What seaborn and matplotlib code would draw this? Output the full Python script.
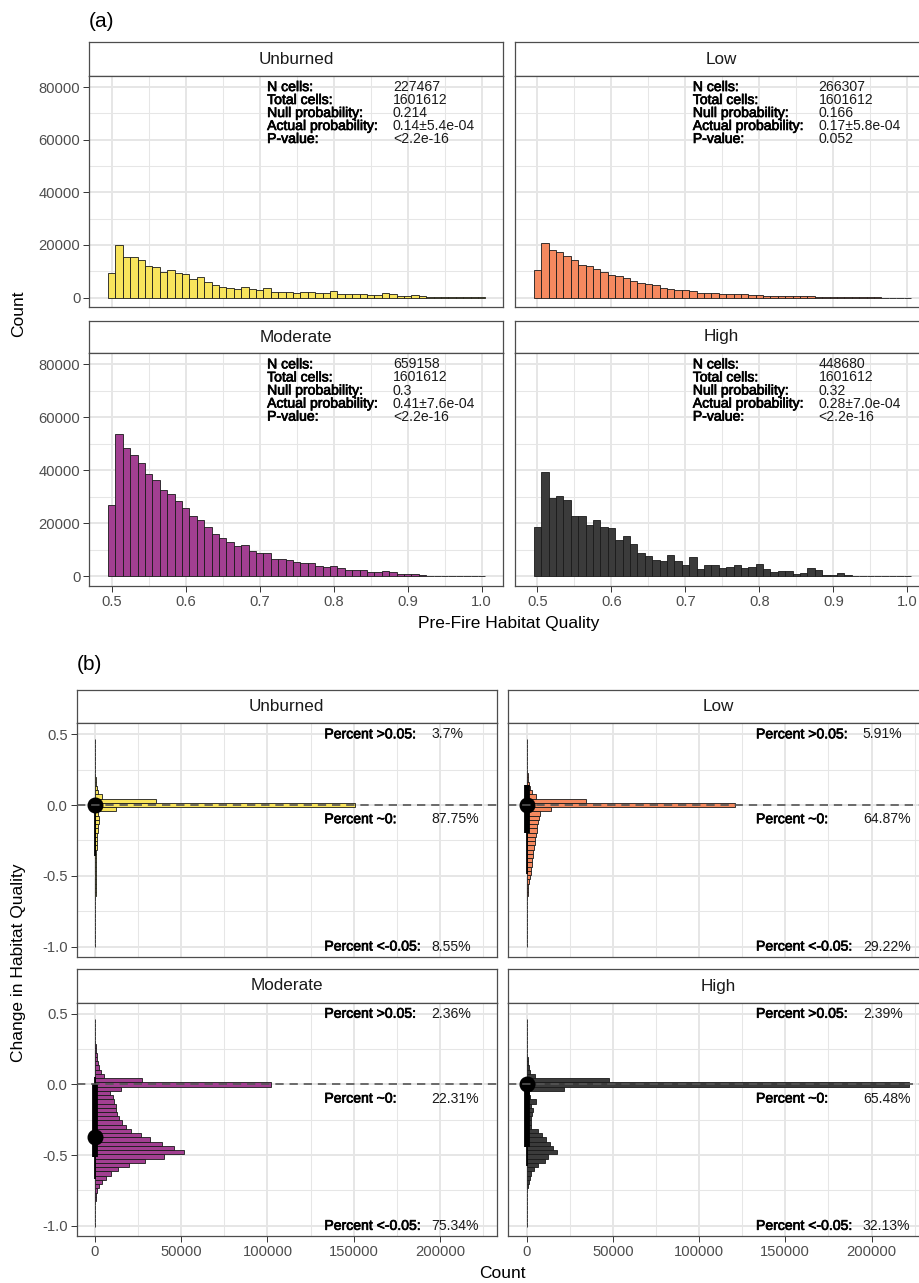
import numpy as np
import matplotlib
matplotlib.use("Agg")
import matplotlib.pyplot as plt
import matplotlib.patheffects as pe
from matplotlib.ticker import MultipleLocator, FuncFormatter
import seaborn as sns

# ---------------------------------------------------------------- data
severity = ["Unburned", "Low", "Moderate", "High"]
severity_colors = ["#F8E45C", "#F5895F", "#A23F91", "#3B3B3B"]

# (a) pre-fire habitat quality, bins 0.01 wide centred on 0.50 ... 1.00
quality_unburned = [9500, 19800, 15400, 15400, 14300, 11900, 11500, 9700, 10400, 9500,
                    8800, 7200, 7700, 6100, 4800, 4000, 3700, 3300, 4200, 3300,
                    2700, 3500, 2000, 2300, 2100, 1800, 2000, 2300, 1800, 1900,
                    2400, 1500, 1300, 1400, 1400, 1000, 1100, 1600, 1400, 760,
                    760, 880, 500, 380, 250, 250, 130, 130, 100, 60, 30]
quality_low = [10400, 20600, 18100, 17200, 15700, 14300, 12400, 11900, 10700, 9700,
               8600, 8300, 7300, 6200, 5700, 5100, 4700, 3700, 3300, 2700,
               2800, 2400, 1900, 1900, 1800, 1400, 1500, 1400, 1400, 1000,
               1000, 760, 760, 760, 630, 500, 630, 500, 380, 250,
               250, 130, 130, 60, 50, 40, 30, 20, 15, 10, 5]
quality_moderate = [26800, 53800, 48400, 45800, 42800, 38500, 36300, 32700, 31100, 28400,
                    25800, 22800, 21400, 18700, 16100, 14600, 13000, 11500, 11600, 9700,
                    8600, 8900, 6600, 6600, 6200, 5300, 4800, 4800, 3800, 3500,
                    3900, 3000, 2400, 2300, 2300, 1600, 1600, 2000, 1600, 900,
                    900, 760, 380, 250, 250, 130, 130, 60, 40, 25, 15]
quality_high = [18500, 39400, 29400, 30300, 28700, 22900, 22700, 19400, 21100, 18500,
                18100, 13800, 15300, 12300, 8700, 7500, 6300, 5700, 8100, 5700,
                4400, 7100, 2800, 4200, 4100, 3000, 3400, 4300, 3200, 3400,
                4700, 2700, 1500, 1800, 1800, 900, 1300, 3000, 2400, 630,
                630, 1100, 500, 130, 100, 80, 60, 40, 30, 20, 10]

n_cells = ["227467", "266307", "659158", "448680"]
total_cells = ["1601612", "1601612", "1601612", "1601612"]
null_probability = ["0.214", "0.166", "0.3", "0.32"]
actual_probability = ["0.14\u00b15.4e-04", "0.17\u00b15.8e-04", "0.41\u00b17.6e-04", "0.28\u00b17.0e-04"]
p_value = ["<2.2e-16", "0.052", "<2.2e-16", "<2.2e-16"]

# (b) change in habitat quality, bins 0.03 wide centred on -0.99 ... 0.45
change_unburned = [30, 40, 50, 60, 70, 80, 90, 100, 120, 150, 200, 250, 300, 300, 350,
                   400, 500, 600, 500, 550, 650, 800, 850, 950, 1050, 1250, 1400, 1700,
                   1900, 2600, 2300, 1800, 12100,
                   150500, 35100, 4000, 1900, 1200, 600, 300, 200, 120, 80, 60, 40, 30, 20, 15, 10]
change_low = [20, 30, 40, 50, 60, 80, 100, 130, 160, 220, 300, 400, 550,
              800, 1100, 1500, 1900, 2300, 2700, 3100, 3400, 3600, 3800, 4200, 4600,
              5000, 5400, 5800, 6100, 6500, 7100, 7700, 14400,
              120800, 34600, 5200, 3300, 2200, 1500, 1000, 700, 500, 300, 200, 130, 80, 50, 30, 20]
change_moderate = [20, 40, 60, 100, 150, 250, 400, 700, 1300, 2500, 4000, 6100, 9000,
                   13500, 19800, 28800, 40000, 51500, 45700, 38800, 32000, 26500, 21100,
                   17700, 15400, 13800, 12700, 12300, 11900, 11100, 10500, 8600, 15200,
                   101800, 27500, 5400, 3300, 2300, 1600, 1200, 900, 600, 400, 250, 150, 100, 80, 60, 50]
change_high = [20, 30, 40, 60, 80, 120, 200, 300, 500, 800, 1200, 1900, 2700, 4200,
               6700, 10900, 12300, 17900, 15500, 13400, 11500, 9000, 6900, 2400, 2800,
               2600, 3300, 3800, 2600, 5200, 2000, 1400, 21500,
               221500, 48000, 5000, 2000, 1200, 800, 600, 400, 300, 200, 120, 80, 50, 30, 20, 10]

# median with 66% (thick) and 95% (thin) intervals of the change
change_median = [0.0, 0.0, -0.37, 0.0]
interval66_low = [-0.005, -0.20, -0.51, -0.44]
interval66_high = [0.005, 0.14, 0.0, 0.0]
interval95_low = [-0.36, -0.49, -0.67, -0.58]
interval95_high = [0.03, 0.14, 0.05, 0.04]

pct_gain = ["3.7%", "5.91%", "2.36%", "2.39%"]
pct_stable = ["87.75%", "64.87%", "22.31%", "65.48%"]
pct_loss = ["8.55%", "29.22%", "75.34%", "32.13%"]

quality_counts = [quality_unburned, quality_low, quality_moderate, quality_high]
change_counts = [change_unburned, change_low, change_moderate, change_high]

quality_centers = np.round(0.50 + 0.01 * np.arange(len(quality_unburned)), 3)
quality_edges = [float(v) for v in np.append(quality_centers - 0.005, quality_centers[-1] + 0.005)]
change_centers = np.round(-0.99 + 0.03 * np.arange(len(change_unburned)), 3)
change_edges = [float(v) for v in np.append(change_centers - 0.015, change_centers[-1] + 0.015)]

# ---------------------------------------------------------------- style
sns.set_theme(style="white")
plt.rcParams["font.family"] = ["Liberation Sans", "DejaVu Sans"]
plt.rcParams["axes.unicode_minus"] = False

W, H = 919, 1283
fig = plt.figure(figsize=(W / 100, H / 100), dpi=100)
fig.patch.set_facecolor("white")

BORDER = "#4D4D4D"
GRID = "#E6E6E6"
EDGE = "#1A1A1A"
TICK_SIZE = 10.6
STRIP_SIZE = 12.3
TITLE_SIZE = 12.5
NOTE_SIZE = 10.1
bold_fx = [pe.withStroke(linewidth=0.5, foreground="black")]


def px_axes(x0, y0, x1, y1):
    return fig.add_axes([x0 / W, 1 - y1 / H, (x1 - x0) / W, (y1 - y0) / H])


def draw_strip(x0, x1, y0, y1, label):
    sax = px_axes(x0, y0, x1, y1)
    sax.set_xticks([])
    sax.set_yticks([])
    sax.set_facecolor("white")
    for s in sax.spines.values():
        s.set_visible(True)
        s.set_color(BORDER)
        s.set_linewidth(0.9)
    sax.text(0.5, 0.5, label, ha="center", va="center", fontsize=STRIP_SIZE,
             color="#1A1A1A", transform=sax.transAxes)


def style_panel(ax, show_x, show_y):
    ax.set_facecolor("white")
    ax.set_axisbelow(True)
    ax.grid(which="major", color=GRID, linewidth=1.4)
    ax.grid(which="minor", color=GRID, linewidth=0.75)
    for s in ax.spines.values():
        s.set_visible(True)
        s.set_color(BORDER)
        s.set_linewidth(0.9)
    ax.tick_params(which="major", length=4.3, width=0.7, color="#333333",
                   labelsize=TICK_SIZE, labelcolor="#4D4D4D", pad=2.2)
    ax.tick_params(which="minor", length=0)
    ax.tick_params(axis="x", bottom=show_x, labelbottom=show_x, top=False)
    ax.tick_params(axis="y", left=show_y, labelleft=show_y, right=False)
    ax.set_xlabel("")
    ax.set_ylabel("")


# ---------------------------------------------------------------- (a)
a_cols = [(89.3, 502.7), (515.0, 928.4)]
a_rows = [(42.3, 76.0, 307.3), (320.7, 353.3, 586.0)]

for i, name in enumerate(severity):
    r, c = divmod(i, 2)
    x0, x1 = a_cols[c]
    s0, p0, p1 = a_rows[r]
    draw_strip(x0, x1, s0, p0, name)
    ax = px_axes(x0, p0, x1, p1)
    sns.histplot(x=quality_centers, weights=np.asarray(quality_counts[i], float),
                 bins=quality_edges, ax=ax, color=severity_colors[i],
                 edgecolor=EDGE, linewidth=0.6, alpha=1)
    ax.set_xlim(0.4697, 1.0284)
    ax.set_ylim(-3700, 84200)
    ax.xaxis.set_major_locator(MultipleLocator(0.1))
    ax.xaxis.set_minor_locator(MultipleLocator(0.05))
    ax.yaxis.set_major_locator(MultipleLocator(20000))
    ax.yaxis.set_minor_locator(MultipleLocator(10000))
    ax.xaxis.set_major_formatter(FuncFormatter(lambda v, p: f"{v:.1f}"))
    ax.yaxis.set_major_formatter(FuncFormatter(lambda v, p: f"{int(round(v))}"))
    style_panel(ax, show_x=(r == 1), show_y=(c == 0))

    rows = [("N cells:", n_cells[i]), ("Total cells:", total_cells[i]),
            ("Null probability:", null_probability[i]),
            ("Actual probability:", actual_probability[i]), ("P-value:", p_value[i])]
    for k, (lab, val) in enumerate(rows):
        yy = 80000 - k * 4930
        ax.text(0.71, yy, lab, ha="left", va="center", fontsize=NOTE_SIZE,
                color="black", path_effects=bold_fx, zorder=7)
        ax.text(0.88, yy, val, ha="left", va="center", fontsize=NOTE_SIZE,
                color="#1A1A1A", zorder=7)

fig.text(89 / W, 1 - 21.5 / H, "(a)", ha="left", va="center", fontsize=15, color="black")
fig.text(508.5 / W, 1 - 623 / H, "Pre-Fire Habitat Quality", ha="center", va="center",
         fontsize=TITLE_SIZE, color="black")
fig.text(18.3 / W, 1 - 314 / H, "Count", ha="center", va="center", rotation=90,
         fontsize=TITLE_SIZE, color="black")

# ---------------------------------------------------------------- (b)
b_cols = [(76.7, 496.7), (508.3, 928.3)]
b_rows = [(690.0, 723.3, 956.7), (969.3, 1002.7, 1236.0)]

for i, name in enumerate(severity):
    r, c = divmod(i, 2)
    x0, x1 = b_cols[c]
    s0, p0, p1 = b_rows[r]
    draw_strip(x0, x1, s0, p0, name)
    ax = px_axes(x0, p0, x1, p1)
    sns.histplot(y=change_centers, weights=np.asarray(change_counts[i], float),
                 bins=change_edges, ax=ax, color=severity_colors[i],
                 edgecolor=EDGE, linewidth=0.6, alpha=1)
    # median with its two intervals
    ax.plot([0, 0], [interval95_low[i], interval95_high[i]], color="black",
            linewidth=1.3, solid_capstyle="butt", zorder=4)
    ax.plot([0, 0], [interval66_low[i], interval66_high[i]], color="black",
            linewidth=4.2, solid_capstyle="butt", zorder=4)
    ax.plot([0], [change_median[i]], marker="o", markersize=10.5, color="black",
            linestyle="none", zorder=5)
    ax.axhline(0, color="#555555", linewidth=1.2, linestyle=(0, (5, 3.5)), zorder=6)

    ax.set_xlim(-10600, 232900)
    ax.set_ylim(-1.072, 0.578)
    ax.xaxis.set_major_locator(MultipleLocator(50000))
    ax.xaxis.set_minor_locator(MultipleLocator(25000))
    ax.yaxis.set_major_locator(MultipleLocator(0.5))
    ax.yaxis.set_minor_locator(MultipleLocator(0.25))
    ax.xaxis.set_major_formatter(FuncFormatter(lambda v, p: f"{int(round(v))}"))
    ax.yaxis.set_major_formatter(FuncFormatter(lambda v, p: f"{v:.1f}"))
    style_panel(ax, show_x=(r == 1), show_y=(c == 0))

    notes = [(0.5, "Percent >0.05:", pct_gain[i]),
             (-0.1, "Percent ~0:", pct_stable[i]),
             (-1.0, "Percent <-0.05:", pct_loss[i])]
    for yy, lab, val in notes:
        ax.text(133000, yy, lab, ha="left", va="center", fontsize=NOTE_SIZE,
                color="black", path_effects=bold_fx, zorder=7)
        ax.text(195000, yy, val, ha="left", va="center", fontsize=NOTE_SIZE,
                color="#1A1A1A", zorder=7)

fig.text(76.7 / W, 1 - 665 / H, "(b)", ha="left", va="center", fontsize=15, color="black")
fig.text(502.5 / W, 1 - 1273 / H, "Count", ha="center", va="center",
         fontsize=TITLE_SIZE, color="black")
fig.text(19 / W, 1 - 963 / H, "Change in Habitat Quality", ha="center", va="center",
         rotation=90, fontsize=TITLE_SIZE, color="black")

fig.savefig("out.png", dpi=100, facecolor="white")
